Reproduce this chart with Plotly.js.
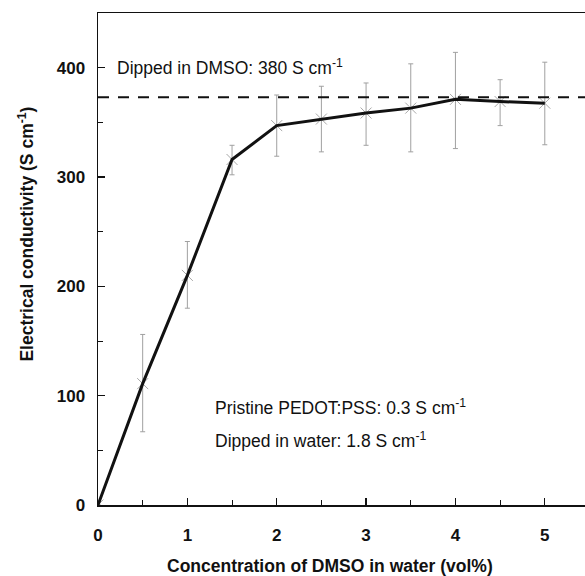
<!DOCTYPE html>
<html>
<head>
<meta charset="utf-8">
<script src="https://cdn.plot.ly/plotly-3.0.1.min.js"></script>
<style>html,body{margin:0;padding:0;background:#fff;}#chart{width:585px;height:576px;}</style>
</head>
<body>
<div id="chart"></div>
<script>
const conc = [0, 0.5, 1, 1.5, 2, 2.5, 3, 3.5, 4, 4.5, 5];
const conductivity = [0, 111, 210, 316, 347, 353, 358.5, 363, 371, 369, 367.5];
const errUpper = [0, 45, 31, 13, 28, 30, 27.5, 40.5, 43, 20, 37.5];
const errLower = [0, 44, 30, 14, 28, 30, 29.5, 40, 45, 22, 38];
const dippedDMSO = 373;
const xTicks = [0, 1, 2, 3, 4, 5];
const yTicks = [0, 100, 200, 300, 400];

const FONT = 'Liberation Sans, Arial, sans-serif';

const traces = [
  {
    x: conc, y: conductivity, type: 'scatter', mode: 'markers',
    marker: {symbol: 'x-thin-open', size: 11, color: '#a8a8a8', line: {width: 1, color: '#a8a8a8'}},
    error_y: {type: 'data', symmetric: false, array: errUpper, arrayminus: errLower,
              color: '#a0a0a0', thickness: 1, width: 2.5},
    showlegend: false, hoverinfo: 'skip'
  },
  {
    x: conc, y: conductivity, type: 'scatter', mode: 'lines',
    line: {color: '#111', width: 3},
    showlegend: false
  }
];

const layout = {
  width: 585, height: 576,
  margin: {l: 97.5, r: 0, t: 13, b: 71},
  paper_bgcolor: '#fff', plot_bgcolor: '#fff',
  font: {family: FONT, color: '#111'},
  showlegend: false,
  xaxis: {
    range: [0, 5.45], tickvals: xTicks, ticktext: xTicks.map(String),
    showgrid: false, zeroline: false,
    showline: true, linecolor: '#111', linewidth: 1.5, mirror: true,
    ticks: 'inside', ticklen: 7, tickwidth: 1.2, tickcolor: '#111',
    minor: {dtick: 0.5, ticks: 'inside', ticklen: 5, tickwidth: 1, tickcolor: '#111', showgrid: false},
    tickfont: {family: FONT, size: 17, weight: 'bold', color: '#111'},
    ticklabelstandoff: 14
  },
  yaxis: {
    range: [0, 450], tickvals: yTicks, ticktext: yTicks.map(String),
    showgrid: false, zeroline: false,
    showline: true, linecolor: '#111', linewidth: 1.5, mirror: false,
    ticks: 'inside', ticklen: 7, tickwidth: 1.2, tickcolor: '#111',
    minor: {dtick: 50, ticks: 'inside', ticklen: 5, tickwidth: 1, tickcolor: '#111', showgrid: false},
    tickfont: {family: FONT, size: 17, weight: 'bold', color: '#111'},
    ticklabelstandoff: 8
  },
  shapes: [
    {type: 'line', xref: 'paper', x0: 0, x1: 1, yref: 'y', y0: dippedDMSO, y1: dippedDMSO,
     line: {color: '#111', width: 2, dash: '11px,9px'}}
  ],
  annotations: [
    {text: 'Dipped in DMSO: 380 S cm<sup>-1</sup>', xref: 'x', yref: 'y', x: 0.185, y: 401,
     xanchor: 'left', yanchor: 'middle', showarrow: false,
     font: {family: FONT, size: 17.5, color: '#111'}},
    {text: 'Pristine PEDOT:PSS: 0.3 S cm<sup>-1</sup>', xref: 'x', yref: 'y', x: 1.29, y: 89.5,
     xanchor: 'left', yanchor: 'middle', showarrow: false,
     font: {family: FONT, size: 17.5, color: '#111'}},
    {text: 'Dipped in water: 1.8 S cm<sup>-1</sup>', xref: 'x', yref: 'y', x: 1.29, y: 59,
     xanchor: 'left', yanchor: 'middle', showarrow: false,
     font: {family: FONT, size: 17.5, color: '#111'}},
    {text: 'Concentration of DMSO in water (vol%)', xref: 'paper', yref: 'paper',
     x: (330 - 97.5) / 487.5, y: -(566 - 505) / 492, xanchor: 'center', yanchor: 'middle', showarrow: false,
     font: {family: FONT, size: 17.5, weight: 'bold', color: '#111'}},
    {text: 'Electrical conductivity (S cm<sup>-1</sup>)', xref: 'paper', yref: 'paper',
     x: (25 - 97.5) / 487.5, y: (505 - 234) / 492, xanchor: 'center', yanchor: 'middle', showarrow: false,
     textangle: -90,
     font: {family: FONT, size: 17.5, weight: 'bold', color: '#111'}}
  ]
};

Plotly.newPlot('chart', traces, layout, {displayModeBar: false, staticPlot: true});
</script>
</body>
</html>
